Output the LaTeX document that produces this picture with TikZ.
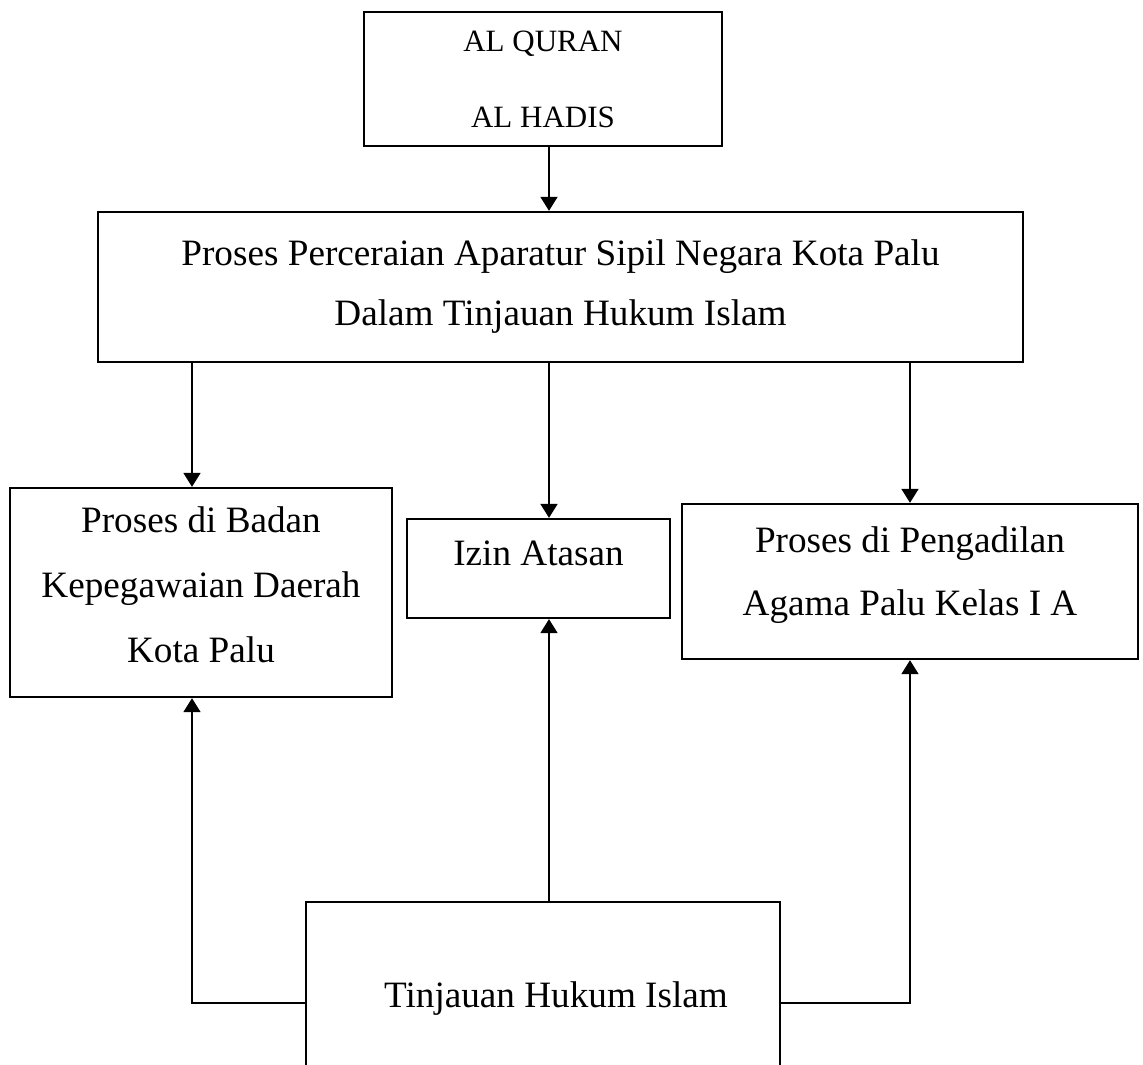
\documentclass[tikz,border=0pt]{standalone}
\usepackage{fontspec}
\setmainfont{Liberation Serif}
\usetikzlibrary{arrows.meta}
\newcommand{\dropline}[1]{\rule[-#1]{0pt}{0pt}}

\begin{document}
\begin{tikzpicture}[
  x=0.3226pt, y=-0.3226pt,
  box/.style={draw, line width=0.75pt, inner sep=0pt, align=center,
              font=\fontsize{12}{14.4}\selectfont},
  arr/.style={-{Triangle[length=4.5pt,width=5.4pt]}, line width=0.75pt},
]
\clip (0,0) rectangle (1143,1064);
%% Row 1: sources
\node[box, font=\fontsize{10}{12}\selectfont,
      minimum width=115.5pt, minimum height=43.2pt] (quran) at (543,79)
  {AL QURAN\\[12.5pt]AL HADIS};
%% Row 2: main topic
\node[box, minimum width=298.4pt, minimum height=48.4pt] (proses) at (560.5,287)
  {Proses Perceraian Aparatur Sipil Negara Kota Palu\\[4.96pt]Dalam Tinjauan Hukum Islam};
%% Row 3: three procedures
\node[box, minimum width=123.2pt, minimum height=67.4pt] (badan) at (201,592.5)
  {Proses di Badan\\[6.6pt]Kepegawaian Daerah\\[6.6pt]Kota Palu\dropline{5.3pt}};
\node[box, minimum width=84.8pt, minimum height=31.9pt] (izin) at (538.5,568.5)
  {Izin Atasan\dropline{10.2pt}};
\node[box, minimum width=147.1pt, minimum height=50pt] (pengadilan) at (910,581.5)
  {Proses di Pengadilan\\[5.9pt]Agama Palu Kelas I A\dropline{6.9pt}};
%% Row 4: review
\node[box, minimum width=152.9pt, minimum height=62.6pt] (tinjauan) at (543,999)
  {\hspace*{8.4pt}Tinjauan Hukum Islam};
%% helper lines
\coordinate (spine) at (549,0);
\coordinate (leftx) at (192,0);
\coordinate (foot) at (0,1003);
\draw[arr] (quran.south -| spine) -- (proses.north -| spine);
\draw[arr] (proses.south -| leftx) -- (badan.north -| leftx);
\draw[arr] (proses.south -| spine) -- (izin.north -| spine);
\draw[arr] (proses.south -| pengadilan.center) -- (pengadilan.north);
\draw[arr] (tinjauan.north -| spine) -- (izin.south -| spine);
\draw[arr] (tinjauan.west |- foot) -| (badan.south -| leftx);
\draw[arr] (tinjauan.east |- foot) -| (pengadilan.south);
\end{tikzpicture}
\end{document}
